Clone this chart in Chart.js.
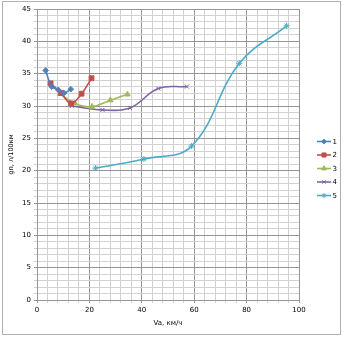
<!DOCTYPE html>
<html>
<head>
<meta charset="utf-8">
<script src="https://cdn.jsdelivr.net/npm/chart.js@4/dist/chart.umd.min.js"></script>
<style>
  html, body { margin: 0; padding: 0; background: #fff; }
  #wrap { width: 344px; height: 338px; }
</style>
</head>
<body>
<div id="wrap"><canvas id="c" width="344" height="338"></canvas></div>
<script>
// Fuel consumption gп (l/100 km) against speed Va (km/h), one series per gear
const seriesNames = ['1', '2', '3', '4', '5'];

const speed1 = [3.3, 5.6, 8.1, 10.3, 12.9];
const fuel1  = [35.5, 33.0, 32.5, 32.0, 32.6];

const speed2 = [5.2, 9.2, 13.0, 17.0, 20.8];
const fuel2  = [33.5, 32.0, 30.4, 31.9, 34.3];

const speed3 = [8.8, 14.4, 21.0, 28.0, 34.5];
const fuel3  = [31.9, 30.4, 29.9, 30.9, 31.8];

const speed4 = [13.3, 25.0, 35.5, 46.3, 57.2];
const fuel4  = [30.0, 29.4, 29.7, 32.7, 33.0];

const speed5 = [22.3, 40.8, 59.0, 77.2, 95.3];
const fuel5  = [20.4, 21.8, 23.8, 36.6, 42.4];

const xTickLabels = [0, 20, 40, 60, 80, 100];
const yTickLabels = [0, 5, 10, 15, 20, 25, 30, 35, 40, 45];

const colors  = ['#4F81BD', '#C0504D', '#9BBB59', '#8064A2', '#4BACC6'];
const markers = ['rectRot', 'rect', 'triangle', 'crossRot', 'star'];
const radii   = [2.8, 3.4, 3.2, 2.8, 3];

const speeds = [speed1, speed2, speed3, speed4, speed5];
const fuels  = [fuel1, fuel2, fuel3, fuel4, fuel5];

const datasets = seriesNames.map((name, i) => ({
  label: name,
  data: speeds[i].map((x, k) => ({ x: x, y: fuels[i][k] })),
  showLine: true,
  tension: 0.4,
  borderColor: colors[i],
  backgroundColor: colors[i],
  borderWidth: 1.6,
  pointStyle: markers[i],
  pointRadius: radii[i],
  pointBorderColor: colors[i],
  pointBackgroundColor: colors[i],
  pointBorderWidth: 1
}));

const FONT = 'DejaVu Sans';

// white background with a thin grey frame around the whole chart
const framePlugin = {
  id: 'frame',
  beforeDraw(chart) {
    const ctx = chart.ctx;
    ctx.save();
    ctx.fillStyle = '#fff';
    ctx.fillRect(0, 0, chart.width, chart.height);
    ctx.strokeStyle = '#b0b0b0';
    ctx.lineWidth = 1;
    ctx.strokeRect(2.5, 1.5, 338, 333);
    ctx.restore();
  }
};

// legend drawn as line segment + marker + label, stacked on the right
const sideLegend = {
  id: 'sideLegend',
  afterDraw(chart) {
    const ctx = chart.ctx;
    ctx.save();
    chart.data.datasets.forEach((ds, i) => {
      const y = 141.5 + i * 13.5;
      ctx.strokeStyle = ds.borderColor;
      ctx.lineWidth = 1.6;
      ctx.beginPath();
      ctx.moveTo(317, y);
      ctx.lineTo(331, y);
      ctx.stroke();
      ctx.fillStyle = ds.pointBackgroundColor;
      ctx.strokeStyle = ds.pointBorderColor;
      ctx.lineWidth = 1;
      Chart.helpers.drawPoint(ctx, {
        pointStyle: ds.pointStyle, radius: ds.pointRadius * 0.85, rotation: 0, borderWidth: 1
      }, 324, y);
      ctx.fillStyle = '#000';
      ctx.font = '7px "' + FONT + '"';
      ctx.textBaseline = 'middle';
      ctx.textAlign = 'left';
      ctx.fillText(ds.label, 332.5, y + 0.5);
    });
    ctx.restore();
  }
};

new Chart(document.getElementById('c'), {
  type: 'scatter',
  data: { datasets: datasets },
  plugins: [framePlugin, sideLegend],
  options: {
    responsive: false,
    animation: false,
    devicePixelRatio: 1,
    layout: { padding: { top: 9, right: 45, bottom: 0, left: 0 } },
    plugins: { legend: { display: false }, tooltip: { enabled: false } },
    scales: {
      x: {
        type: 'linear',
        min: 0, max: 100,
        afterFit(scale) { scale.height = 38; },
        ticks: {
          stepSize: 4,
          autoSkip: false,
          maxRotation: 0,
          padding: 3,
          color: '#000',
          font: { family: FONT, size: 7 },
          callback: (v) => xTickLabels.includes(v) ? String(v) : ''
        },
        grid: {
          color: (c) => (c.tick && c.tick.value % 20 === 0) ? '#959595' : '#d2d2d2',
          lineWidth: 1,
          tickLength: 3,
          drawTicks: true
        },
        border: { color: '#959595' },
        title: {
          display: true,
          text: 'Va, км/ч',
          color: '#000',
          font: { family: FONT, size: 7 },
          padding: { top: 0, bottom: 11 }
        }
      },
      y: {
        type: 'linear',
        min: 0, max: 45,
        afterFit(scale) { scale.width = 37; },
        ticks: {
          stepSize: 1,
          autoSkip: false,
          padding: 3,
          color: '#000',
          font: { family: FONT, size: 7 },
          callback: (v) => yTickLabels.includes(v) ? String(v) : ''
        },
        grid: {
          color: (c) => (c.tick && c.tick.value % 5 === 0) ? '#959595' : '#d2d2d2',
          lineWidth: 1,
          tickLength: 3
        },
        border: { color: '#959595' },
        title: {
          display: true,
          text: 'gп, л/100км',
          color: '#000',
          font: { family: FONT, size: 6.5 },
          padding: { top: 7, bottom: 0 }
        }
      }
    }
  }
});
</script>
</body>
</html>
